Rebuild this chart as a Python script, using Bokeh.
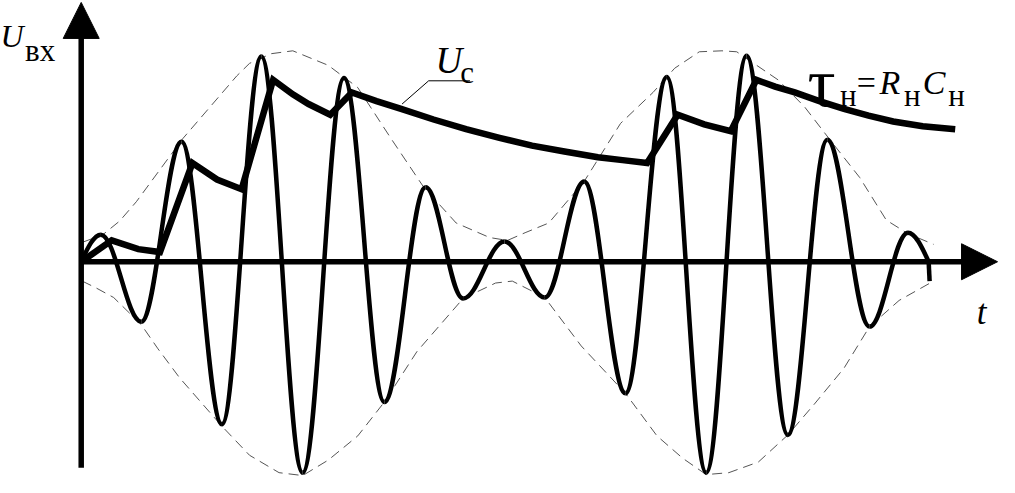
from bokeh.plotting import figure
from bokeh.models import Range1d, Label, Arrow, NormalHead
from bokeh.embed import file_html
from bokeh.resources import INLINE

# ---- data (time t and voltage u, in picture units; axis origin at 0,0) ----
# extrema of the AM carrier U_вх (start at origin, last entries: axis crossing and end)
carrier_t = [0, 20, 61, 102, 143, 183, 225, 267, 308, 350, 388, 430, 471, 511, 553, 595, 635, 676, 718, 758, 801, 840, 861]
carrier_u = [0, 28, -62, 124, -168, 212, -218, 190, -145, 77, -38, 21, -37, 83, -136, 191, -218, 213, -179, 126, -67, 30, 0]
carrier_end_t = 862
carrier_end_u = -20

# detector output U_c
uc_t = [0, 31, 58, 80, 113, 138, 163, 195, 215, 231, 253, 275, 300, 325, 358, 391, 425, 458, 491, 525, 550, 575, 606, 633, 660, 686, 705, 725, 750, 775, 800, 825, 855, 888]
uc_u = [0, 22, 13, 10, 102, 85, 75, 188, 173, 163, 152, 175, 166, 158, 147, 137, 128, 120, 114, 108, 105, 102, 152, 142, 135, 188, 181, 175, 166, 158, 151, 145, 140, 137]

# upper envelope (dashed)
env_top_t = [1, 22, 39, 56, 103, 158, 171, 193, 215, 251, 281, 315, 348, 381, 415, 433, 451, 475, 511, 548, 581, 603, 628, 651, 666, 708, 735, 760, 791, 818, 840, 866]
env_top_u = [20, 28, 42, 62, 127, 192, 205, 215, 218, 203, 180, 127, 77, 40, 25, 22, 30, 40, 83, 143, 175, 200, 217, 218, 217, 188, 160, 127, 87, 43, 29, 18]

# lower envelope (dashed)
env_bot_t = [1, 15, 33, 61, 78, 100, 143, 171, 201, 225, 251, 281, 308, 341, 388, 421, 438, 471, 508, 553, 585, 611, 635, 658, 688, 718, 745, 775, 801, 831, 866]
env_bot_u = [-20, -27, -37, -65, -90, -120, -170, -200, -218, -221, -205, -180, -145, -93, -38, -22, -20, -37, -87, -136, -180, -203, -220, -218, -207, -179, -147, -110, -67, -40, -20]

# axes extents
y_axis_bottom, y_axis_top = -213, 268
x_axis_right = 931

# leader line of the U_c label
leader_t = [326, 353, 395]
leader_u = [163, 187, 187]

# ---- figure ----
W, H = 999, 477
p = figure(width=W, height=H, output_backend="svg", toolbar_location=None,
           x_axis_type=None, y_axis_type=None,
           x_range=Range1d(-82, 933), y_range=Range1d(-223, 270),
           min_border=0)
p.grid.visible = False
p.outline_line_color = None
p.background_fill_color = "white"
p.border_fill_color = "white"

# dashed envelopes
p.line(env_top_t, env_top_u, line_color="#555555", line_width=1, line_dash="10 6")
p.line(env_bot_t, env_bot_u, line_color="#555555", line_width=1, line_dash="10 6")

# carrier as cubic bezier pieces between successive extrema
x0, y0, x1, y1, cx0, cy0, cx1, cy1 = [], [], [], [], [], [], [], []
n = len(carrier_t)
for i in range(n - 1):
    ta, ua = carrier_t[i], carrier_u[i]
    tb, ub = carrier_t[i + 1], carrier_u[i + 1]
    dt, du = tb - ta, ub - ua
    if i == 0:  # quarter wave from zero up to the first crest
        c0 = (ta + 0.3343 * dt, ua + 0.5251 * du)
        c1 = (ta + 0.6516 * dt, ub)
    elif i == n - 2:  # quarter wave from last crest down to the axis
        c0 = (ta + 0.3484 * dt, ua)
        c1 = (ta + 0.6657 * dt, ua + 0.4749 * du)
    else:  # half wave between extrema
        c0 = (ta + 0.3634 * dt, ua)
        c1 = (tb - 0.3634 * dt, ub)
    x0.append(ta); y0.append(ua); x1.append(tb); y1.append(ub)
    cx0.append(c0[0]); cy0.append(c0[1]); cx1.append(c1[0]); cy1.append(c1[1])
p.bezier(x0=x0, y0=y0, x1=x1, y1=y1, cx0=cx0, cy0=cy0, cx1=cx1, cy1=cy1,
         line_color="black", line_width=4.5)
p.line([carrier_t[-1], carrier_end_t], [carrier_u[-1], carrier_end_u], line_color="black", line_width=4.5)

# detector output
p.line(uc_t, uc_u, line_color="black", line_width=6.5, line_join="miter")

# leader
p.line(leader_t, leader_u, line_color="black", line_width=1)

# axes with arrowheads
p.line([0, 0], [y_axis_bottom, y_axis_top - 30], line_color="black", line_width=5.5)
p.line([0, x_axis_right - 30], [0, 0], line_color="black", line_width=5.5)
p.add_layout(Arrow(end=NormalHead(size=36, fill_color="black", line_color="black", line_width=1),
                   x_start=0, y_start=y_axis_top - 40, x_end=0, y_end=y_axis_top,
                   line_alpha=0))
p.add_layout(Arrow(end=NormalHead(size=36, fill_color="black", line_color="black", line_width=1),
                   x_start=x_axis_right - 40, y_start=0, x_end=x_axis_right, y_end=0,
                   line_alpha=0))

FONT = "Liberation Serif"
def lab(x, y, text, size, italic=False, font=FONT):
    p.add_layout(Label(x=x, y=y, text=text, text_font=font, text_font_size=f"{size}px",
                       text_font_style="italic" if italic else "normal",
                       text_color="black", text_baseline="alphabetic", text_align="left"))

lab(-82, 233, "U", 32, True)
lab(-57, 218, "вх", 31)
lab(360, 208, "U", 37, True)
lab(385, 196, "с", 31)
lab(738, 185, "τ", 70)
lab(771, 172, "н", 31)
lab(788, 185, "=", 34)
lab(811, 185, "R", 34, True)
lab(836, 172, "н", 31)
lab(855, 185, "C", 34, True)
lab(881, 172, "н", 31)
lab(910, -52, "t", 35, True)

open("out.html", "w").write(file_html(p, INLINE))
